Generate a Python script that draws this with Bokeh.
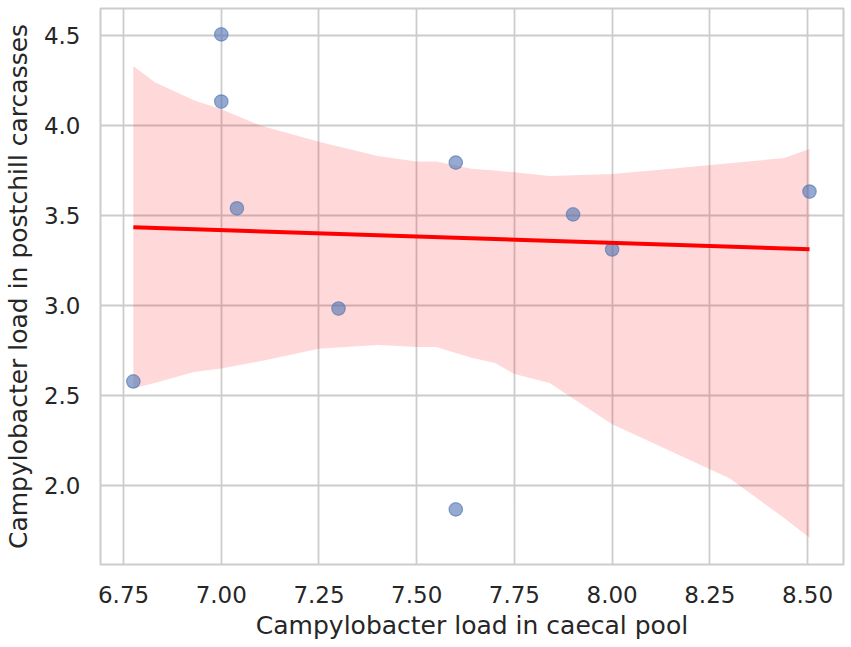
import numpy as np
from bokeh.plotting import figure
from bokeh.models import Range1d, FixedTicker
from bokeh.embed import file_html
from bokeh.resources import INLINE

# data points
caecal = [6.775, 7.0, 7.0, 7.04, 7.30, 7.60, 7.60, 7.90, 8.00, 8.505]
postchill = [2.578, 4.506, 4.133, 3.54, 2.983, 3.794, 1.867, 3.506, 3.311, 3.633]

# confidence band
band_x = [6.775, 6.83, 6.93, 7.0, 7.1, 7.25, 7.4, 7.5, 7.55, 7.64, 7.7, 7.75, 7.84, 8.0, 8.15, 8.3, 8.44, 8.505]
band_upper = [4.33, 4.24, 4.14, 4.09, 4.00, 3.91, 3.83, 3.80, 3.80, 3.76, 3.75, 3.74, 3.72, 3.73, 3.76, 3.79, 3.82, 3.87]
band_lower = [2.54, 2.57, 2.63, 2.65, 2.69, 2.76, 2.78, 2.77, 2.77, 2.71, 2.68, 2.62, 2.57, 2.34, 2.19, 2.04, 1.82, 1.71]

x_ticks = [6.75, 7.0, 7.25, 7.5, 7.75, 8.0, 8.25, 8.5]
x_tick_labels = ["6.75", "7.00", "7.25", "7.50", "7.75", "8.00", "8.25", "8.50"]
y_ticks = [2.0, 2.5, 3.0, 3.5, 4.0, 4.5]
y_tick_labels = ["2.0", "2.5", "3.0", "3.5", "4.0", "4.5"]

slope, intercept = np.polyfit(caecal, postchill, 1)
fit_x = [min(caecal), max(caecal)]
fit_y = [slope * v + intercept for v in fit_x]

p = figure(width=851, height=647, output_backend="svg", toolbar_location=None,
           x_range=Range1d(6.691, 8.592), y_range=Range1d(1.561, 4.65),
           min_border_left=97, min_border_right=8, min_border_top=8, min_border_bottom=83)

p.background_fill_color = "white"
p.border_fill_color = "white"
p.outline_line_color = "#cccccc"
p.outline_line_width = 2

p.varea(x=band_x, y1=band_lower, y2=band_upper, fill_color="red", fill_alpha=0.15)
p.scatter(caecal, postchill, size=13.5, fill_color="#4C72B0", fill_alpha=0.6,
          line_color="#4C72B0", line_alpha=0.6, line_width=1.2)
p.line(fit_x, fit_y, line_color="red", line_width=4)

for ax in (p.xaxis, p.yaxis):
    ax.axis_line_color = None
    ax.major_tick_line_color = None
    ax.minor_tick_line_color = None
    ax.major_tick_out = 0
    ax.major_tick_in = 0
    ax.minor_tick_out = 0
    ax.minor_tick_in = 0
    ax.major_label_text_font = "DejaVu Sans"
    ax.major_label_text_font_size = "23px"
    ax.major_label_text_color = "#262626"
    ax.axis_label_text_font = "DejaVu Sans"
    ax.axis_label_text_font_size = "25px"
    ax.axis_label_text_font_style = "normal"
    ax.axis_label_text_color = "#262626"

p.xaxis.ticker = FixedTicker(ticks=x_ticks)
p.xaxis.major_label_overrides = dict(zip(x_ticks, x_tick_labels))
p.yaxis.ticker = FixedTicker(ticks=y_ticks)
p.yaxis.major_label_overrides = dict(zip(y_ticks, y_tick_labels))
p.xaxis.major_label_standoff = 21
p.yaxis.major_label_standoff = 20
p.xaxis.axis_label_standoff = 5
p.yaxis.axis_label_standoff = 8
p.xaxis.axis_label = "Campylobacter load in caecal pool"
p.yaxis.axis_label = "Campylobacter load in postchill carcasses"

for g in (p.xgrid, p.ygrid):
    g.grid_line_color = "#cccccc"
    g.grid_line_width = 1.8

open("out.html", "w").write(file_html(p, INLINE))
